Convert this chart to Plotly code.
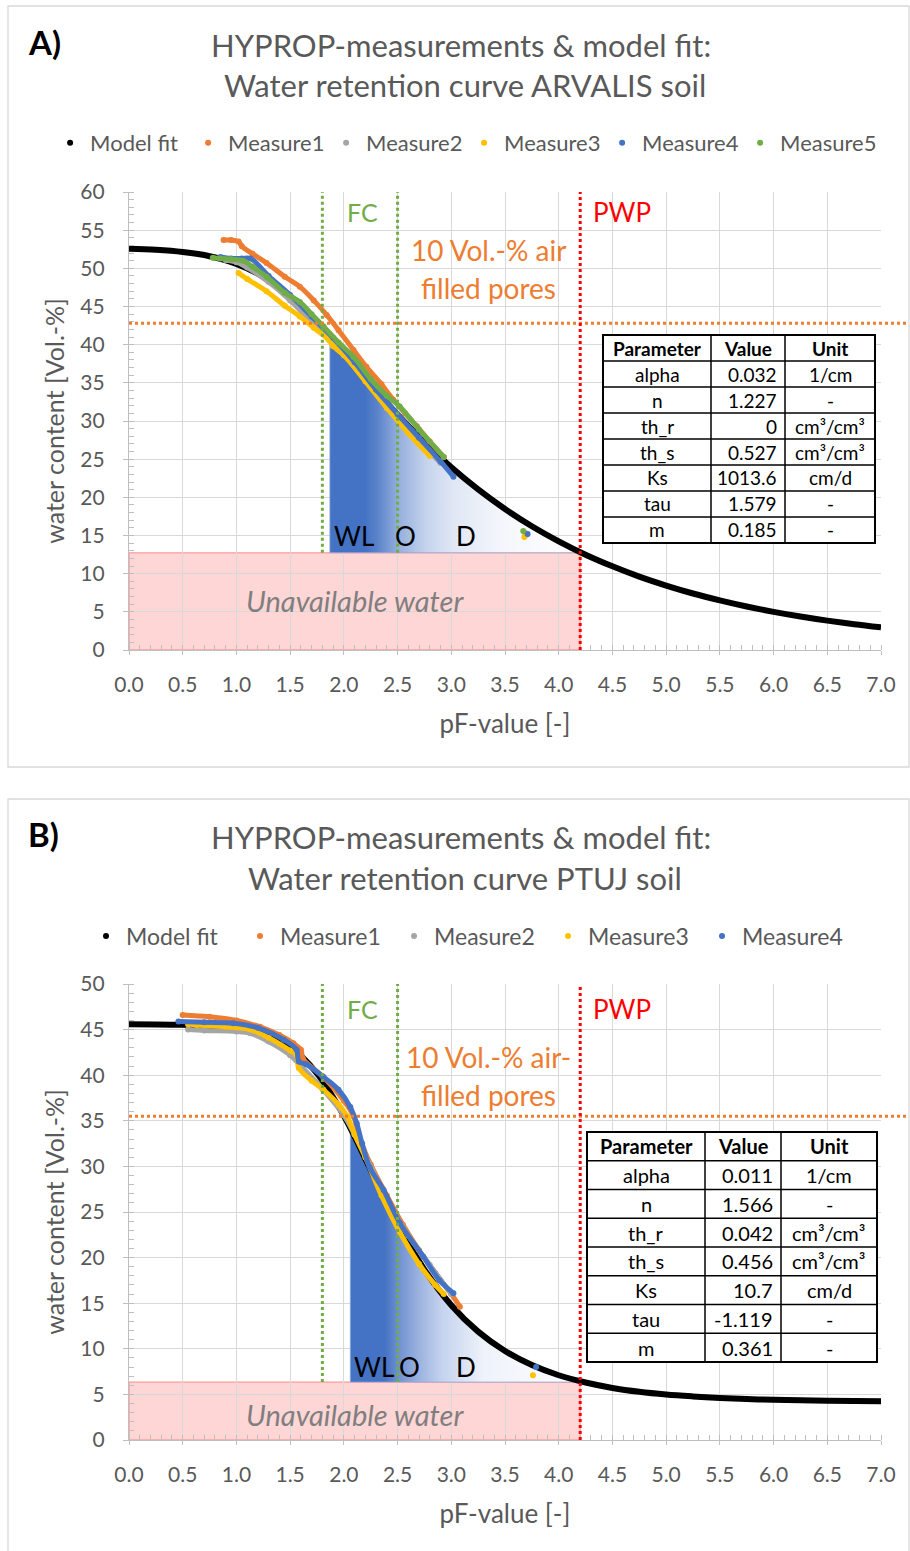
import plotly.graph_objects as go

# ------------------------------------------------------------------ data
FONT = "Lato"
GREY = "#595959"

PF_GRID = [0.0, 0.25, 0.5, 0.75, 1.0, 1.25, 1.5, 1.75, 2.0, 2.25, 2.5, 2.75, 3.0, 3.25,
           3.5, 3.75, 4.0, 4.25, 4.5, 4.75, 5.0, 5.25, 5.5, 5.75, 6.0, 6.25, 6.5, 6.75, 7.0]

# Panel A (ARVALIS)
model_a = [52.56, 52.42, 52.13, 51.59, 50.59, 48.89, 46.29, 42.86, 38.89, 34.79, 30.84,
           27.20, 23.93, 21.03, 18.47, 16.21, 14.23, 12.48, 10.96, 9.61, 8.44, 7.40, 6.50,
           5.70, 5.00, 4.39, 3.85, 3.38, 2.97]
a_m1_x = [0.88, 0.95, 1.02, 1.05, 1.15, 1.28, 1.45, 1.59, 1.72, 1.84, 1.95, 2.09, 2.21, 2.35, 2.46, 2.57, 2.68, 2.80, 2.93, None, 3.69]
a_m1_y = [53.7, 53.7, 53.5, 52.9, 51.9, 50.7, 48.9, 47.6, 45.8, 43.9, 41.9, 39.3, 37.1, 34.8, 32.8, 31.0, 29.3, 27.3, 25.3, None, 15.3]
a_m2_x = [0.90, 1.00, 1.10, 1.30, 1.50, 1.70, 1.85, 2.00, 2.20, 2.40, 2.60, 2.80, 2.90, None, 3.70]
a_m2_y = [51.1, 50.8, 50.1, 48.2, 45.8, 43.0, 41.2, 38.8, 35.5, 32.1, 28.8, 25.9, 24.5, None, 15.1]
a_m3_x = [1.02, 1.10, 1.28, 1.45, 1.59, 1.72, 1.86, 1.90, 2.00, 2.20, 2.40, 2.60, 2.80, None, 3.68]
a_m3_y = [49.4, 48.6, 47.0, 45.1, 43.7, 42.2, 40.6, 39.8, 38.6, 35.2, 31.7, 28.4, 25.4, None, 14.8]
a_m4_x = [0.85, 0.95, 1.05, 1.13, 1.30, 1.50, 1.70, 1.90, 2.10, 2.30, 2.50, 2.70, 2.90, 3.02, None, 3.71]
a_m4_y = [51.5, 51.3, 51.3, 51.3, 49.0, 46.5, 43.7, 40.9, 37.7, 34.1, 30.9, 27.8, 24.7, 22.7, None, 15.2]
a_m5_x = [0.78, 0.85, 0.95, 1.06, 1.15, 1.28, 1.45, 1.59, 1.70, 1.81, 1.95, 2.09, 2.25, 2.40, 2.52, 2.70, 2.93, None, 3.67]
a_m5_y = [51.4, 51.3, 51.2, 51.0, 50.2, 48.9, 46.8, 45.6, 44.0, 42.4, 40.3, 38.4, 35.5, 33.3, 31.9, 28.9, 25.3, None, 15.6]
a_fc = [1.8, 2.5]
a_pwp = 4.2
a_air = 42.8
a_unavail = 12.75
a_area_start = 1.87
a_area_top = 40.6
a_params = ["alpha", "n", "th_r", "th_s", "Ks", "tau", "m"]
a_values = ["0.032", "1.227", "0", "0.527", "1013.6", "1.579", "0.185"]
a_units = ["1/cm", "-", "cm³/cm³", "cm³/cm³", "cm/d", "-", "-"]

# Panel B (PTUJ)
model_b = [45.59, 45.57, 45.52, 45.41, 45.14, 44.50, 43.07, 40.21, 35.55, 29.62, 23.70,
           18.69, 14.78, 11.88, 9.76, 8.22, 7.10, 6.30, 5.71, 5.29, 4.99, 4.78, 4.61,
           4.49, 4.41, 4.35, 4.31, 4.28, 4.26]
b_m1_x = [0.50, 0.75, 1.00, 1.22, 1.40, 1.53, 1.60, 1.62, 1.80, 2.00, 2.09, 2.15, 2.25, 2.40, 2.55, 2.70, 2.85, 3.00, 3.08]
b_m1_y = [46.6, 46.4, 46.0, 45.3, 44.4, 43.5, 42.8, 41.8, 39.9, 37.2, 35.5, 33.0, 30.2, 26.8, 23.6, 20.8, 18.3, 16.0, 14.6]
b_m2_x = [0.55, 0.70, 1.00, 1.13, 1.30, 1.50, 1.60, 1.80, 2.00, 2.10, 2.20, 2.40, 2.60, 2.80, 3.00]
b_m2_y = [45.0, 44.9, 44.8, 44.6, 43.7, 42.2, 41.0, 38.5, 35.6, 33.5, 31.2, 26.4, 22.4, 19.2, 16.0]
b_m3_x = [0.55, 0.63, 0.90, 1.13, 1.30, 1.50, 1.56, 1.58, 1.70, 1.81, 1.95, 2.03, 2.10, 2.20, 2.35, 2.52, 2.70, 2.85, 2.93, None, 3.76]
b_m3_y = [45.6, 45.5, 45.3, 45.0, 44.1, 42.7, 42.2, 40.8, 39.4, 38.4, 36.8, 35.5, 33.5, 31.0, 26.8, 22.8, 19.3, 17.0, 16.0, None, 7.1]
b_m4_x = [0.46, 0.70, 0.97, 1.20, 1.44, 1.56, 1.58, 1.65, 1.81, 1.95, 2.06, 2.12, 2.17, 2.24, 2.37, 2.52, 2.74, 2.89, 3.02, None, 3.79]
b_m4_y = [45.9, 45.8, 45.7, 45.2, 43.9, 42.8, 41.5, 41.2, 39.8, 38.4, 36.5, 34.7, 32.5, 29.9, 27.4, 23.8, 20.1, 17.5, 16.1, None, 8.0]
b_fc = [1.8, 2.5]
b_pwp = 4.2
b_air = 35.5
b_unavail = 6.35
b_area_start = 2.06
b_area_top = 33.7
b_params = ["alpha", "n", "th_r", "th_s", "Ks", "tau", "m"]
b_values = ["0.011", "1.566", "0.042", "0.456", "10.7", "-1.119", "0.361"]
b_units = ["1/cm", "-", "cm³/cm³", "cm³/cm³", "cm/d", "-", "-"]

TABLE_HEADER = ["Parameter", "Value", "Unit"]

SERIES_COLORS = {"Model fit": "#000000", "Measure1": "#ED7D31", "Measure2": "#A5A5A5",
                 "Measure3": "#FFC000", "Measure4": "#4472C4", "Measure5": "#70AD47"}

# ------------------------------------------------------------------ geometry helpers
W, H = 910, 1551
def px(p):
    return p / W
def py(p):
    return 1 - p / H

fig = go.Figure()


def area_polygon(grid, model, start, top, end, bottom):
    xs = [start, start]
    ys = [bottom, top]
    for x, y in zip(grid, model):
        if start < x < end:
            xs.append(x)
            ys.append(y)
    xs += [end, start]
    ys += [bottom, bottom]
    return xs, ys


def add_panel(xa, ya, legend, model, measures, area, area_scale):
    ax, ay = area_polygon(PF_GRID, model, *area)
    fig.add_trace(go.Scatter(
        x=ax, y=ay, mode="lines", fill="toself",
        line=dict(color="rgba(143,170,220,0.8)", width=1),
        fillgradient=dict(type="horizontal", colorscale=area_scale,
                          start=area[0], stop=area[2]),
        showlegend=False, hoverinfo="skip", xaxis=xa, yaxis=ya))
    fig.add_trace(go.Scatter(
        x=PF_GRID, y=model, mode="lines", line=dict(color="#000000", width=6, shape="spline"),
        showlegend=False, xaxis=xa, yaxis=ya, name="Model fit"))
    for name, (mx, my) in measures.items():
        fig.add_trace(go.Scatter(
            x=mx, y=my, mode="lines+markers", name=name,
            line=dict(color=SERIES_COLORS[name], width=5, shape="spline"),
            marker=dict(color=SERIES_COLORS[name], size=6),
            showlegend=False, xaxis=xa, yaxis=ya))
    for name in ["Model fit"] + list(measures.keys()):
        fig.add_trace(go.Scatter(
            x=[None], y=[None], mode="markers", name=name,
            marker=dict(color=SERIES_COLORS[name], size=6),
            legend=legend, xaxis=xa, yaxis=ya))


scale_a = [[0.0, "#4472C4"], [0.14, "#4472C4"], [0.19, "#5B83CB"], [0.27, "#93ADDC"],
           [0.38, "#C3D2EC"], [0.49, "#E0E7F4"], [0.70, "#F5F7FC"], [1.0, "#FFFFFF"]]
scale_b = [[0.0, "#4472C4"], [0.15, "#4472C4"], [0.21, "#6F91D0"], [0.30, "#9CB3DF"],
           [0.40, "#C5D3EE"], [0.58, "#EEF2FA"], [1.0, "#FFFFFF"]]

add_panel("x", "y", "legend", model_a,
          {"Measure1": (a_m1_x, a_m1_y), "Measure2": (a_m2_x, a_m2_y),
           "Measure3": (a_m3_x, a_m3_y), "Measure4": (a_m4_x, a_m4_y),
           "Measure5": (a_m5_x, a_m5_y)},
          (a_area_start, a_area_top, a_pwp, a_unavail), scale_a)
add_panel("x2", "y2", "legend2", model_b,
          {"Measure1": (b_m1_x, b_m1_y), "Measure2": (b_m2_x, b_m2_y),
           "Measure3": (b_m3_x, b_m3_y), "Measure4": (b_m4_x, b_m4_y)},
          (b_area_start, b_area_top, b_pwp, b_unavail), scale_b)

shapes = []
annotations = []

# ------------------------------------------------------------------ parameter tables
def add_table(params, values, units, col_edges, top, row_h, size):
    n_rows = len(params) + 1
    bottom = top + n_rows * row_h
    shapes.append(dict(type="rect", xref="paper", yref="paper",
                       x0=px(col_edges[0]), x1=px(col_edges[-1]), y0=py(bottom), y1=py(top),
                       fillcolor="white", line=dict(color="black", width=2), layer="above"))
    for i in range(1, n_rows):
        yy = py(top + i * row_h)
        shapes.append(dict(type="line", xref="paper", yref="paper", x0=px(col_edges[0]),
                           x1=px(col_edges[-1]), y0=yy, y1=yy,
                           line=dict(color="black", width=1.5), layer="above"))
    for c in col_edges[1:-1]:
        shapes.append(dict(type="line", xref="paper", yref="paper", x0=px(c), x1=px(c),
                           y0=py(bottom), y1=py(top), line=dict(color="black", width=1.5),
                           layer="above"))
    columns = [params, values, units]
    for j, head in enumerate(TABLE_HEADER):
        annotations.append(dict(xref="paper", yref="paper",
                                x=px((col_edges[j] + col_edges[j + 1]) / 2), y=py(top + row_h / 2),
                                text="<b>" + head + "</b>", showarrow=False,
                                xanchor="center", yanchor="middle",
                                font=dict(family=FONT, size=size, color="black")))
    for j, col in enumerate(columns):
        for i, txt in enumerate(col):
            yc = py(top + (i + 1.5) * row_h)
            if j == 1:
                xx, anchor = px(col_edges[j + 1] - 6), "right"
            else:
                xx, anchor = px((col_edges[j] + col_edges[j + 1]) / 2), "center"
            annotations.append(dict(xref="paper", yref="paper", x=xx, y=yc, text=txt,
                                    showarrow=False, xanchor=anchor, yanchor="middle",
                                    font=dict(family=FONT, size=size, color="black")))

# ------------------------------------------------------------------ axes
def xaxis_cfg(anchor):
    return dict(range=[0, 7], dtick=0.5, tick0=0, tickformat=".1f", anchor=anchor,
                domain=[px(129), px(881)], showgrid=True, gridcolor="#D9D9D9", gridwidth=1.2,
                showline=True, linecolor="#BFBFBF", linewidth=1.2,
                ticks="outside", ticklen=4, tickcolor="#BFBFBF",
                minor=dict(dtick=0.1, ticks="inside", ticklen=5, tickcolor="#BFBFBF", showgrid=False),
                tickfont=dict(family=FONT, size=21, color=GREY), ticklabelstandoff=12,
                title=dict(text="pF-value [-]", font=dict(family=FONT, size=26, color=GREY), standoff=19),
                zeroline=False, automargin=False, fixedrange=True)

def yaxis_cfg(top, dom, anchor):
    return dict(range=[0, top], dtick=5, domain=dom, anchor=anchor,
                showgrid=True, gridcolor="#D9D9D9", gridwidth=1.2,
                showline=True, linecolor="#BFBFBF", linewidth=1.2,
                ticks="outside", ticklen=5, tickcolor="#BFBFBF",
                minor=dict(dtick=1, ticks="inside", ticklen=5, tickcolor="#BFBFBF", showgrid=False),
                tickfont=dict(family=FONT, size=21, color=GREY), ticklabelstandoff=14,
                title=dict(text="water content [Vol.-%]", font=dict(family=FONT, size=25, color=GREY), standoff=8),
                zeroline=False, automargin=False, fixedrange=True)

# ------------------------------------------------------------------ shapes & annotations
def panel_decor(xref, yref, fc, pwp, air, unavail, ytop, panel_top, panel_bottom,
                letter, title2, fc_y, pwp_y, air_lines, air_y, wlod_y, wlod_x, unavail_y, title_y):
    shapes.append(dict(type="rect", xref="paper", yref="paper", x0=px(8), x1=px(909),
                       y0=py(panel_bottom), y1=py(panel_top),
                       line=dict(color="#D9D9D9", width=1.3), fillcolor="rgba(0,0,0,0)", layer="below"))
    shapes.append(dict(type="rect", xref=xref, yref=yref, x0=0, x1=pwp, y0=0, y1=unavail,
                       fillcolor="rgba(255,70,70,0.22)", line=dict(color="rgba(255,90,90,0.45)", width=1.5),
                       layer="below"))
    for f in fc:
        shapes.append(dict(type="line", xref=xref, yref=yref, x0=f, x1=f, y0=unavail, y1=ytop,
                           line=dict(color="#70AD47", width=3, dash="dot"), layer="above"))
    shapes.append(dict(type="line", xref="paper", yref=yref, x0=px(129), x1=px(908), y0=air, y1=air,
                       line=dict(color="#ED7D31", width=3, dash="dot"), layer="above"))
    shapes.append(dict(type="line", xref=xref, yref=yref, x0=pwp, x1=pwp, y0=0, y1=ytop,
                       line=dict(color="#FF0000", width=3, dash="dot"), layer="above"))

    annotations.append(dict(xref="paper", yref="paper", x=px(26), y=py(title_y[0] - 3), text="<b>" + letter + "</b>",
                            showarrow=False, xanchor="left", yanchor="middle",
                            font=dict(family=FONT, size=33, color="black")))
    annotations.append(dict(xref="paper", yref="paper", x=px(461), y=py(title_y[0]),
                            text="HYPROP-measurements &amp; model fit:", showarrow=False,
                            xanchor="center", yanchor="middle", font=dict(family=FONT, size=31, color=GREY)))
    annotations.append(dict(xref="paper", yref="paper", x=px(465), y=py(title_y[1]),
                            text=title2, showarrow=False,
                            xanchor="center", yanchor="middle", font=dict(family=FONT, size=31, color=GREY)))
    annotations.append(dict(xref=xref, yref=yref, x=2.17, y=fc_y, text="FC", showarrow=False,
                            font=dict(family=FONT, size=25, color="#70AD47")))
    annotations.append(dict(xref=xref, yref=yref, x=4.59, y=pwp_y, text="PWP", showarrow=False,
                            font=dict(family=FONT, size=26, color="#FF0000")))
    for txt, yy in zip(air_lines, air_y):
        annotations.append(dict(xref=xref, yref=yref, x=3.35, y=yy, text=txt, showarrow=False,
                                font=dict(family=FONT, size=28, color="#ED7D31")))
    for txt, xx in zip(["WL", "O", "D"], wlod_x):
        annotations.append(dict(xref=xref, yref=yref, x=xx, y=wlod_y, text=txt, showarrow=False,
                                font=dict(family=FONT, size=26, color="black")))
    annotations.append(dict(xref=xref, yref=yref, x=2.1, y=unavail_y, text="<i>Unavailable water</i>",
                            showarrow=False, font=dict(family=FONT, size=29, color="#7F7F7F")))

panel_decor("x", "y", a_fc, a_pwp, a_air, a_unavail, 60, 6, 767, "A)",
            "Water retention curve ARVALIS soil", 57.4, 57.4,
            ["10 Vol.-% air", "filled pores"], [52.4, 47.4], 15.0, [2.09, 2.57, 3.14], 6.5, (45, 85))
panel_decor("x2", "y2", b_fc, b_pwp, b_air, b_unavail, 50, 799, 1600, "B)",
            "Water retention curve PTUJ soil", 47.3, 47.3,
            ["10 Vol.-% air-", "filled pores"], [42.0, 37.8], 8.0, [2.28, 2.61, 3.14], 2.75, (837, 878))

add_table(a_params, a_values, a_units, [603, 711, 785, 875], 335, 26, 19)
add_table(b_params, b_values, b_units, [587, 705, 781, 877], 1132, 28.75, 20)

fig.update_layout(
    width=W, height=H, margin=dict(l=0, r=0, t=0, b=0),
    paper_bgcolor="white", plot_bgcolor="white",
    font=dict(family=FONT, color=GREY),
    xaxis=xaxis_cfg("y"), xaxis2=xaxis_cfg("y2"),
    yaxis=yaxis_cfg(60, [py(650), py(192)], "x"),
    yaxis2=yaxis_cfg(50, [py(1440), py(984)], "x2"),
    legend=dict(orientation="h", x=0.51, xanchor="center", y=py(143), yanchor="middle",
                font=dict(family=FONT, size=22, color=GREY), itemwidth=30,
                entrywidth=93, entrywidthmode="pixels", bgcolor="rgba(0,0,0,0)"),
    legend2=dict(orientation="h", x=0.5176, xanchor="center", y=py(936), yanchor="middle",
                 font=dict(family=FONT, size=23, color=GREY), itemwidth=30,
                 entrywidth=109, entrywidthmode="pixels", bgcolor="rgba(0,0,0,0)"),
    shapes=shapes, annotations=annotations,
)

fig.write_html("out.html", config={"displayModeBar": False},
               post_script="document.body.style.margin='0';document.body.style.overflow='hidden';")
